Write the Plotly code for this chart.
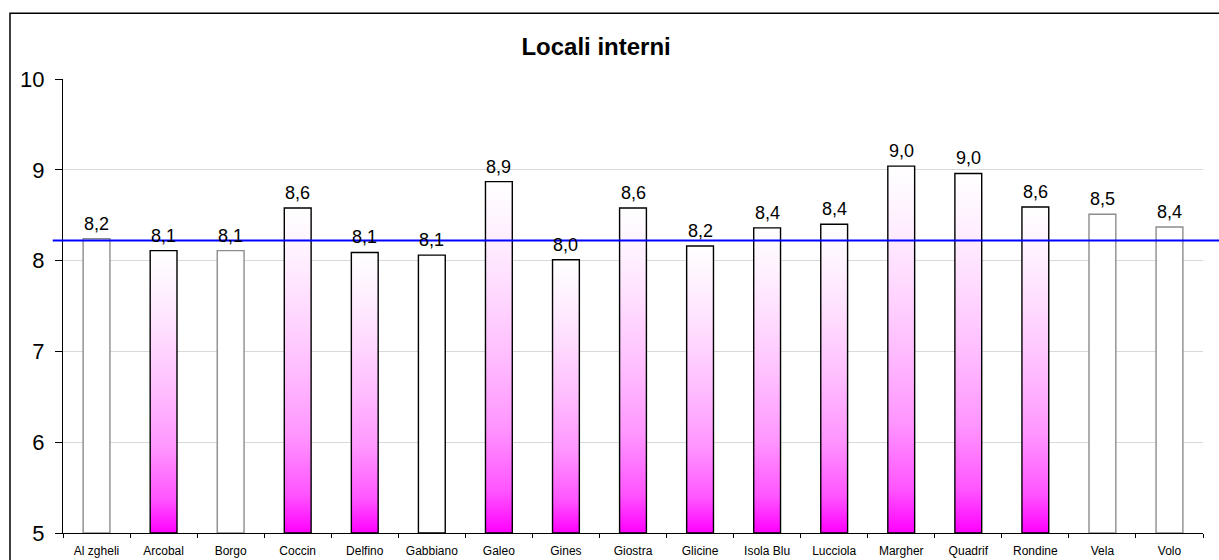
import plotly.graph_objects as go

categories = ["Al zgheli", "Arcobal", "Borgo", "Coccin", "Delfino", "Gabbiano", "Galeo",
              "Gines", "Giostra", "Glicine", "Isola Blu", "Lucciola", "Margher", "Quadrif",
              "Rondine", "Vela", "Volo"]
values = [8.24, 8.11, 8.11, 8.58, 8.09, 8.06, 8.87, 8.01, 8.58, 8.16, 8.36, 8.40, 9.04,
          8.96, 8.59, 8.51, 8.37]
# bar style: "grad" = magenta gradient, black edge; "white" = white, black edge; "grey" = white, grey edge
styles = ["grey", "grad", "grey", "grad", "grad", "white", "grad", "grad", "grad", "grad",
          "grad", "grad", "grad", "grad", "grad", "grey", "grey"]
average = 8.22
y_base = 5
y_max = 10
title = "Locali interni"

BAR_W = 0.4
FONT = "Liberation Sans, Arial, sans-serif"
GRADIENT = [[0, "#FF00FF"], [0.12, "#FF55FF"], [0.3, "#FF95FF"], [0.5, "#FFBDFF"],
            [0.7, "#FFDCFF"], [0.85, "#FFF0FF"], [1, "#FFFFFF"]]

fig = go.Figure()
for i, (cat, v, st) in enumerate(zip(categories, values, styles)):
    xs = [i - BAR_W / 2, i - BAR_W / 2, i + BAR_W / 2, i + BAR_W / 2, i - BAR_W / 2]
    ys = [y_base, v, v, y_base, y_base]
    kw = dict(x=xs, y=ys, mode="lines", fill="toself", hoverinfo="skip", showlegend=False,
              line=dict(color="#000000" if st != "grey" else "#8c8c8c", width=1.4))
    if st == "grad":
        kw["fillgradient"] = dict(type="vertical", start=y_base, stop=v, colorscale=GRADIENT)
    else:
        kw["fillcolor"] = "#FFFFFF"
    fig.add_trace(go.Scatter(**kw))

for i, v in enumerate(values):
    fig.add_annotation(x=i, y=v, xref="x", yref="y", text=f"{v:.1f}".replace(".", ","),
                       showarrow=False, yanchor="bottom", yshift=3,
                       font=dict(family=FONT, size=18, color="#000000"))

fig.add_shape(type="line", xref="paper", yref="y", x0=-0.009, x1=1.03, y0=average, y1=average,
              line=dict(color="#0000FF", width=2), layer="above")
fig.add_shape(type="rect", xref="paper", yref="paper", x0=-0.0465, x1=1.1, y0=-0.2, y1=1.145,
              line=dict(color="#000000", width=1.5), fillcolor="rgba(0,0,0,0)", layer="below")

n = len(categories)
fig.update_layout(
    width=1219, height=560,
    margin=dict(l=63, r=16, t=79, b=27, autoexpand=False),
    paper_bgcolor="white", plot_bgcolor="white",
    title=dict(text=f"<b>{title}</b>", x=0.489, xanchor="center", y=0.916, yanchor="middle",
               font=dict(family=FONT, size=24, color="#000000")),
    xaxis=dict(range=[-0.5, n - 0.5], tickmode="array", tickvals=list(range(n)),
               ticktext=categories, ticks="", showgrid=False, zeroline=False, automargin=False,
               showline=True, linecolor="#000000", linewidth=1, ticklabelstandoff=7,
               tickfont=dict(family=FONT, size=12, color="#000000"),
               minor=dict(tickmode="array", tickvals=[k - 0.5 for k in range(n + 1)],
                          ticks="outside", ticklen=4, tickcolor="#000000", showgrid=False)),
    yaxis=dict(range=[y_base, y_max], tickmode="linear", tick0=5, dtick=1, automargin=False,
               ticks="outside", ticklen=7, tickcolor="#000000", ticklabelstandoff=6,
               showline=True, linecolor="#000000", linewidth=1,
               showgrid=True, gridcolor="#D9D9D9", gridwidth=1, zeroline=False,
               tickfont=dict(family=FONT, size=22, color="#000000")),
)

fig.write_html("out.html", config={"displayModeBar": False},
               post_script="document.body.style.margin='0';")
